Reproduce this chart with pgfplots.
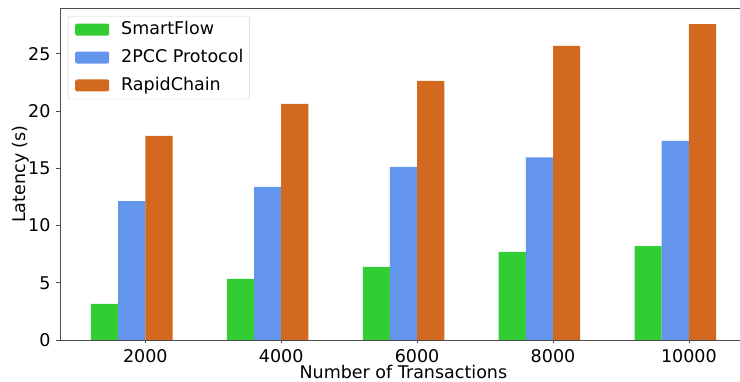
\documentclass[border=0pt]{standalone}
\usepackage{pgfplots}
\pgfplotsset{compat=1.18}
\usepackage{fontspec}
\setmainfont{DejaVu Sans}
\definecolor{cgreen}{HTML}{32CD32}
\definecolor{cblue}{HTML}{6495ED}
\definecolor{corange}{HTML}{D2691E}
\begin{document}
\fontsize{17.5}{21}\selectfont
\begin{tikzpicture}
\path[use as bounding box] (-60pt,-42pt) rectangle (680pt,340pt);
\begin{axis}[
  at={(0,0)}, anchor=south west,
  scale only axis, width=680pt, height=332pt,
  ybar,
  bar width=0.2,
  xmin=-0.628, xmax=4.376,
  ymin=0, ymax=29,
  xtick={0,1,2,3,4},
  xticklabels={2000,4000,6000,8000,10000},
  ytick={0,5,10,15,20,25},
  axis x line*=box, axis y line*=left,
  xtick pos=bottom, ytick pos=left,
  tick align=outside,
  major tick length=3.5pt,
  every tick/.style={black!70, line width=0.8pt},
  axis line style={black!70, line width=0.8pt},
  /pgf/number format/assume math mode=true,
  ticklabel style={font=\fontsize{17.5}{21}\selectfont},
  label style={font=\fontsize{17.5}{21}\selectfont},
  xlabel={Number of Transactions},
  ylabel={Latency (s)},
  xlabel style={at={(axis description cs:0.505,-0.117)}, anchor=base},
  ylabel style={at={(axis description cs:-0.05,0.5)}, anchor=base},
  legend cell align=left,
  legend style={at={(axis description cs:0.01176,0.9759)}, anchor=north west,
    draw=black!18, rounded corners=2pt, fill=white,
    font=\fontsize{17.5}{21}\selectfont,
    row sep=8pt, column sep=10pt, inner xsep=4pt, inner ysep=3.5pt,
    nodes={inner sep=2pt}},
  legend image code/.code={\path (0pt,0pt); \fill[#1] (3pt,-6pt) rectangle (37pt,6pt);},
]
\addplot[fill=cgreen, draw=none, bar shift=-0.3] coordinates {(0,3.15) (1,5.33) (2,6.38) (3,7.69) (4,8.2)};
\addplot[fill=cblue, draw=none, bar shift=-0.1] coordinates {(0,12.12) (1,13.37) (2,15.12) (3,15.95) (4,17.4)};
\addplot[fill=corange, draw=none, bar shift=0.1] coordinates {(0,17.83) (1,20.63) (2,22.64) (3,25.7) (4,27.6)};
\legend{SmartFlow, 2PCC Protocol, RapidChain}
\end{axis}
\end{tikzpicture}
\end{document}
